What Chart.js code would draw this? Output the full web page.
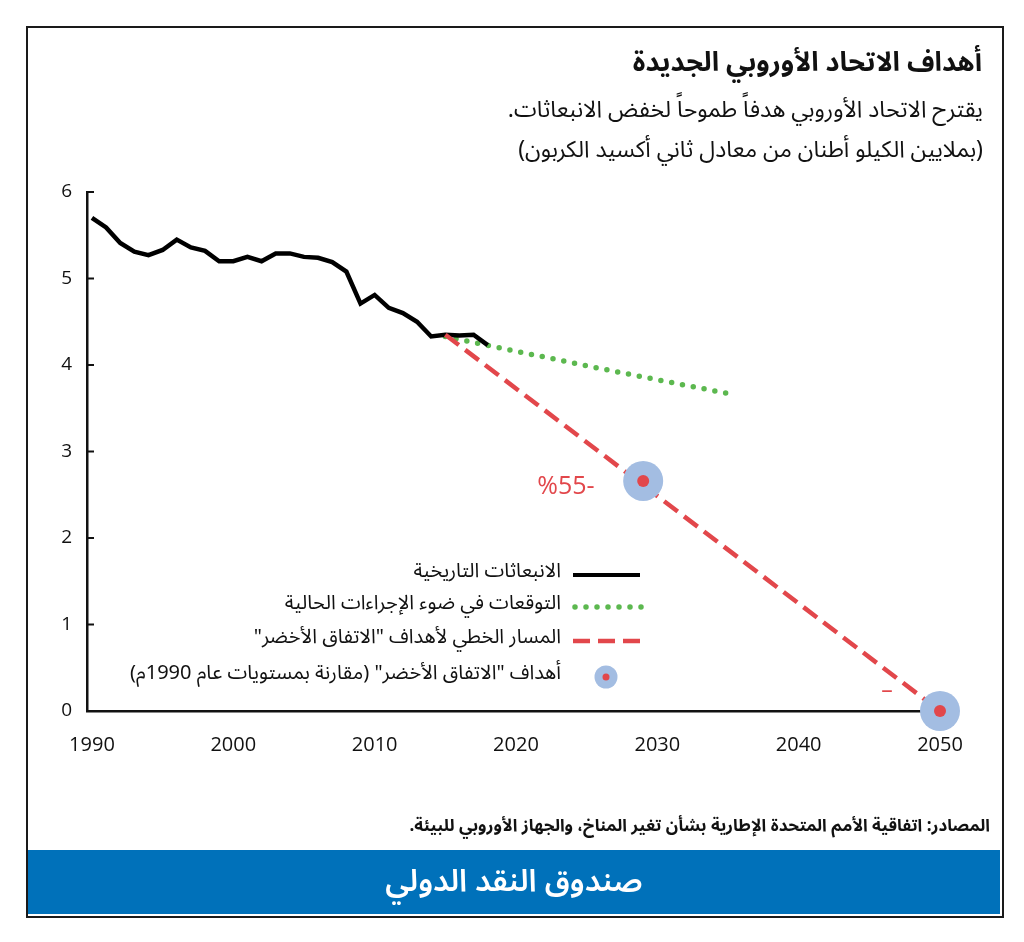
<!DOCTYPE html>
<html lang="ar">
<head>
<meta charset="utf-8">
<script src="https://cdn.jsdelivr.net/npm/chart.js@4.4.1/dist/chart.umd.min.js"></script>
<style>
  body { margin: 0; background: #fff; }
  #wrap { position: relative; width: 1024px; height: 942px; overflow: hidden; }
  #c { position: absolute; left: 0; top: 0; }
  .frame { position: absolute; left: 26px; top: 26px; width: 974px; height: 888px; border: 2px solid #1a1a1a; }
  .txt { position: absolute; direction: rtl; white-space: nowrap; color: #111;
         font-family: "Noto Sans Arabic", "DejaVu Sans", sans-serif; }
  #title { right: 42px; top: 43px; font-size: 27px; font-weight: bold; line-height: 40px; }
  #sub1 { right: 41px; top: 91px; font-size: 23px; line-height: 38px; }
  #sub2 { right: 41px; top: 131px; font-size: 23px; line-height: 38px; }
  #src { right: 34px; top: 811px; font-size: 17px; font-weight: bold; line-height: 30px; }
  #band { position: absolute; left: 28px; top: 850px; width: 972px; height: 64px; background: #0071ba; }
  #imf { left: 0; right: 0; top: 0; text-align: center; color: #fff; font-size: 31px; line-height: 62px; font-weight: 600; }
</style>
</head>
<body>
<div id="wrap">
  <canvas id="c" width="1024" height="942"></canvas>
  <div class="frame"></div>
  <div class="txt" id="title">أهداف الاتحاد الأوروبي الجديدة</div>
  <div class="txt" id="sub1">يقترح الاتحاد الأوروبي هدفاً طموحاً لخفض الانبعاثات.</div>
  <div class="txt" id="sub2">(بملايين الكيلو أطنان من معادل ثاني أكسيد الكربون)</div>
  <div class="txt" id="src">المصادر: اتفاقية الأمم المتحدة الإطارية بشأن تغير المناخ، والجهاز الأوروبي للبيئة.</div>
  <div id="band"><div class="txt" id="imf">صندوق النقد الدولي</div></div>
</div>
<script>
// الانبعاثات التاريخية
var histYears = [1990, 1991, 1992, 1993, 1994, 1995, 1996, 1997, 1998, 1999,
                 2000, 2001, 2002, 2003, 2004, 2005, 2006, 2007, 2008, 2009,
                 2010, 2011, 2012, 2013, 2014, 2015, 2016, 2017, 2018];
var histValues = [5.70, 5.59, 5.41, 5.31, 5.27, 5.33, 5.45, 5.36, 5.32, 5.20,
                  5.20, 5.25, 5.20, 5.29, 5.29, 5.25, 5.24, 5.19, 5.08, 4.71,
                  4.81, 4.66, 4.60, 4.50, 4.33, 4.35, 4.34, 4.35, 4.23];

// التوقعات في ضوء الإجراءات الحالية
var projYears = [2015, 2020, 2025, 2030, 2035];
var projValues = [4.33, 4.16, 3.99, 3.83, 3.67];

// المسار الخطي لأهداف "الاتفاق الأخضر"
var pathYears = [2015, 2050];
var pathValues = [4.35, 0];

// أهداف "الاتفاق الأخضر"
var targetYears = [2029, 2050];
var targetValues = [2.66, 0];

var legendLabels = ['الانبعاثات التاريخية', 'التوقعات في ضوء الإجراءات الحالية',
                    'المسار الخطي لأهداف "الاتفاق الأخضر"', 'أهداف "الاتفاق الأخضر" (مقارنة بمستويات عام 1990م)'];

var xTicks = [1990, 2000, 2010, 2020, 2030, 2040, 2050];

var RED = '#e2474b';
var GREEN = '#5cb84f';
var BLUE = '#a3bde2';
var AR_FONT = '"Noto Sans Arabic", "DejaVu Sans", sans-serif';

function pts(xs, ys) {   // يحول المصفوفتين الى نقاط {x,y}
  return xs.map(function (x, i) { return { x: x, y: ys[i] }; });
}

// يرسم العلامات الصغيرة الى الداخل على المحور الرأسي
var innerTicks = {
  id: 'innerTicks',
  afterDraw: function (chart) {
    var c = chart.ctx, y = chart.scales.y, x0 = chart.chartArea.left;
    c.save();
    c.strokeStyle = '#111';
    c.lineWidth = 2;
    y.ticks.forEach(function (t) {
      var py = y.getPixelForValue(t.value);
      if (t.value === 0) return;
      c.beginPath(); c.moveTo(x0, py); c.lineTo(x0 + 7, py); c.stroke();
    });
    c.restore();
  }
};

// المفتاح داخل منطقة الرسم والتسميات
var legendAndNotes = {
  id: 'legendAndNotes',
  afterDatasetsDraw: function (chart) {
    var c = chart.ctx;
    var rows = [575, 607, 641, 677];
    var x1 = 573, x2 = 640, tx = 561;
    c.save();
    c.lineCap = 'butt';
    // خط أسود
    c.strokeStyle = '#000'; c.lineWidth = 4; c.setLineDash([]);
    c.beginPath(); c.moveTo(x1, rows[0]); c.lineTo(x2, rows[0]); c.stroke();
    // نقاط خضراء
    c.strokeStyle = GREEN; c.lineWidth = 5.5; c.lineCap = 'round'; c.setLineDash([0, 11]);
    c.beginPath(); c.moveTo(x1 + 2, rows[1]); c.lineTo(x2 + 2, rows[1]); c.stroke();
    // خط أحمر متقطع
    c.strokeStyle = RED; c.lineWidth = 4.5; c.lineCap = 'butt'; c.setLineDash([17, 8]);
    c.beginPath(); c.moveTo(x1, rows[2]); c.lineTo(x2 + 2, rows[2]); c.stroke();
    c.setLineDash([]);
    // دائرة الهدف
    c.fillStyle = BLUE;
    c.beginPath(); c.arc(606, rows[3], 11.5, 0, Math.PI * 2); c.fill();
    c.fillStyle = RED;
    c.beginPath(); c.arc(606, rows[3], 3.5, 0, Math.PI * 2); c.fill();

    c.fillStyle = '#111';
    c.font = '20px ' + AR_FONT;
    c.textAlign = 'right';
    c.textBaseline = 'middle';
    c.direction = 'rtl';
    legendLabels.forEach(function (l, i) { c.fillText(l, tx, rows[i] - 1); });

    // تسمية النسبة
    c.direction = 'ltr';
    c.textAlign = 'center';
    c.fillStyle = RED;
    c.font = '25px "Open Sans", sans-serif';
    c.fillText('%55-', 566, 487);
    c.font = '23px "Open Sans", sans-serif';
    c.fillText('–', 887, 691);
    c.restore();
  }
};

var myChart = new Chart(document.getElementById('c'), {
  type: 'line',
  data: {
    datasets: [{
      label: legendLabels[3],
      type: 'scatter',
      data: pts(targetYears, targetValues),
      pointRadius: 20,
      pointHoverRadius: 20,
      pointBackgroundColor: BLUE,
      pointBorderWidth: 0,
      showLine: false,
      clip: false,
      order: 2
    }, {
      label: 'target-core',
      type: 'scatter',
      data: pts(targetYears, targetValues),
      pointRadius: 6,
      pointBackgroundColor: RED,
      pointBorderWidth: 0,
      showLine: false,
      clip: false,
      order: 1
    }, {
      label: legendLabels[2],
      data: pts(pathYears, pathValues),
      borderColor: RED,
      borderWidth: 4.5,
      borderDash: [17, 8],
      pointRadius: 0,
      order: 3
    }, {
      label: legendLabels[0],
      data: pts(histYears, histValues),
      borderColor: '#000',
      borderWidth: 4.5,
      borderJoinStyle: 'miter',
      pointRadius: 0,
      order: 4
    }, {
      label: legendLabels[1],
      data: pts(projYears, projValues),
      borderColor: GREEN,
      borderWidth: 5.5,
      borderDash: [0, 11],
      borderCapStyle: 'round',
      pointRadius: 0,
      order: 5
    }]
  },
  options: {
    responsive: false,
    animation: false,
    events: [],
    layout: { padding: { top: 192, right: 84, left: 0, bottom: 0 } },
    plugins: { legend: { display: false }, tooltip: { enabled: false } },
    scales: {
      x: {
        type: 'linear',
        min: 1989.65,
        max: 2050,
        afterFit: function (s) { s.height = 231; },
        afterBuildTicks: function (s) { s.ticks = xTicks.map(function (v) { return { value: v }; }); },
        grid: { display: false, drawTicks: false },
        border: { display: true, color: '#111', width: 2.5 },
        ticks: {
          padding: 22,
          maxRotation: 0,
          color: '#111',
          font: { family: '"Open Sans", sans-serif', size: 20 },
          callback: function (v) { return String(v); }
        }
      },
      y: {
        min: 0,
        max: 6,
        afterFit: function (s) { s.width = 87; },
        grid: { display: false, drawTicks: false },
        border: { display: true, color: '#111', width: 2.5 },
        ticks: {
          stepSize: 1,
          padding: 15,
          color: '#111',
          font: { family: '"Open Sans", sans-serif', size: 19 }
        }
      }
    }
  },
  plugins: [innerTicks, legendAndNotes]
});
</script>
</body>
</html>
